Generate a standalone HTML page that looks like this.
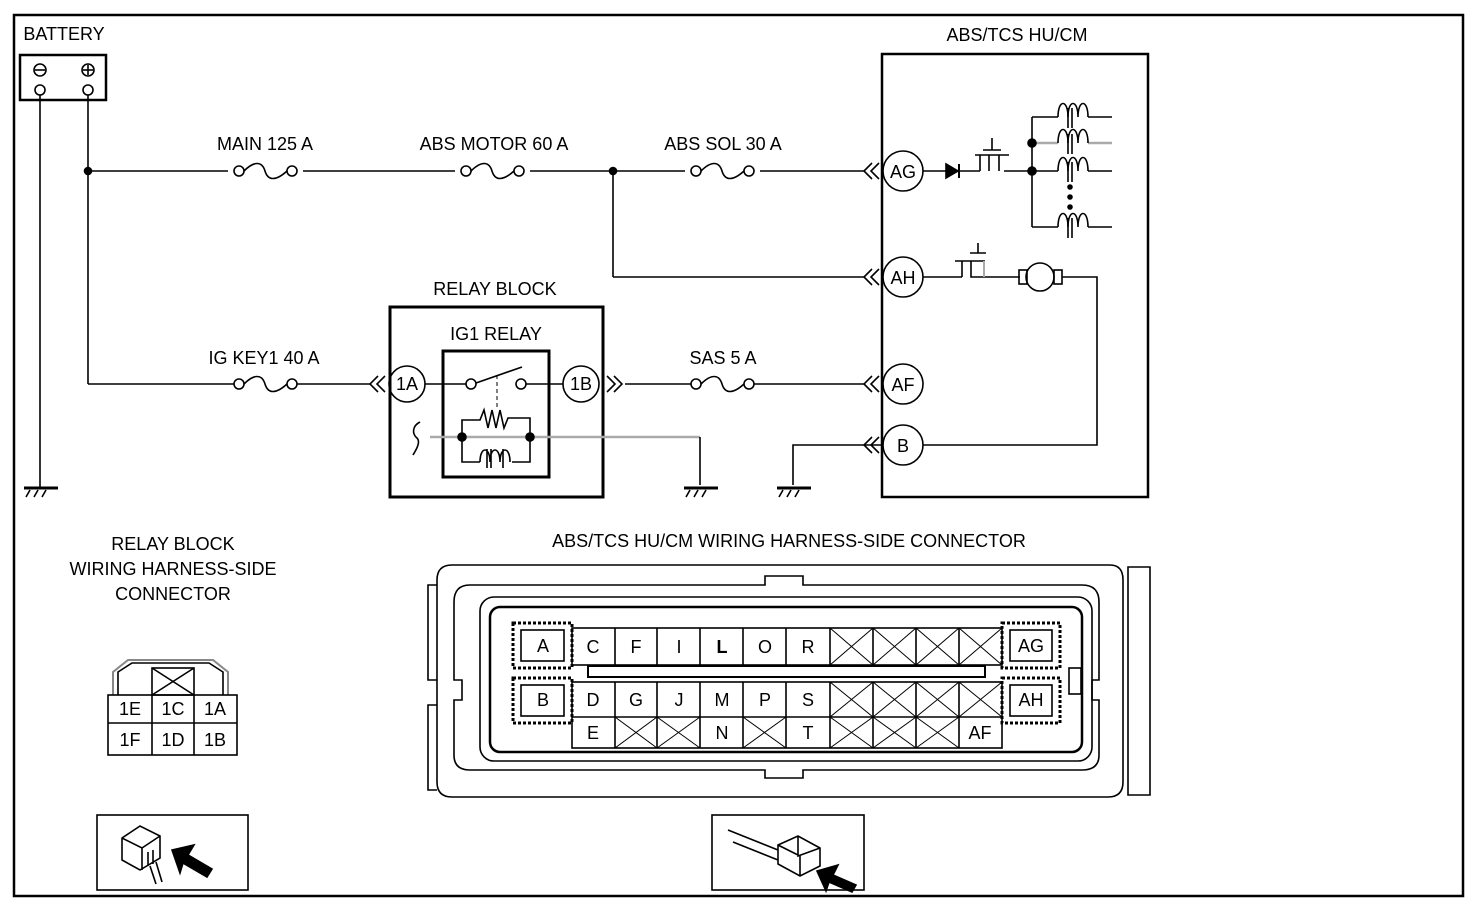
<!DOCTYPE html>
<html><head><meta charset="utf-8"><style>
html,body{margin:0;padding:0;background:#fff;}
svg{display:block;}
text{font-family:"Liberation Sans",sans-serif;font-size:18px;fill:#000;}
</style></head><body>
<svg width="1478" height="910" viewBox="0 0 1478 910" xmlns="http://www.w3.org/2000/svg">
<g fill="none" stroke="#000" stroke-width="1.6">
<rect x="14" y="15" width="1449" height="881" stroke-width="2.5"/>
<rect x="20" y="55" width="86" height="45" stroke-width="2.5"/>
<circle cx="40" cy="70" r="6"/><line x1="35" y1="70" x2="45" y2="70"/>
<circle cx="88" cy="70" r="6"/><line x1="83" y1="70" x2="93" y2="70"/><line x1="88" y1="65" x2="88" y2="75"/>
<circle cx="40" cy="90" r="5"/><circle cx="88" cy="90" r="5"/>
<line x1="40" y1="95" x2="40" y2="488"/>
<line x1="88" y1="95" x2="88" y2="384"/>
<circle cx="88" cy="171" r="3.5" fill="#000"/><circle cx="613" cy="171" r="3.5" fill="#000"/>
<line x1="88" y1="171" x2="228" y2="171"/>
<line x1="303" y1="171" x2="455" y2="171"/>
<line x1="530" y1="171" x2="685" y2="171"/>
<line x1="760" y1="171" x2="864" y2="171"/>
<line x1="613" y1="171" x2="613" y2="277"/><line x1="613" y1="277" x2="864" y2="277"/>
<circle cx="239" cy="171" r="5"/><circle cx="292" cy="171" r="5"/><path d="M244,171 C254,161 262,161 265,171 S276,181 287,171"/>
<circle cx="466" cy="171" r="5"/><circle cx="519" cy="171" r="5"/><path d="M471,171 C481,161 489,161 492,171 S503,181 514,171"/>
<circle cx="696" cy="171" r="5"/><circle cx="749" cy="171" r="5"/><path d="M701,171 C711,161 719,161 722,171 S733,181 744,171"/>
<circle cx="239" cy="384" r="5"/><circle cx="292" cy="384" r="5"/><path d="M244,384 C254,374 262,374 265,384 S276,394 287,384"/>
<circle cx="696" cy="384" r="5"/><circle cx="749" cy="384" r="5"/><path d="M701,384 C711,374 719,374 722,384 S733,394 744,384"/>
<line x1="88" y1="384" x2="234" y2="384"/><line x1="297" y1="384" x2="370" y2="384"/>
<line x1="625" y1="384" x2="691" y2="384"/><line x1="754" y1="384" x2="864" y2="384"/>
<path d="M872,163 L864,171 L872,179 M879,163 L871,171 L879,179"/>
<path d="M872,269 L864,277 L872,285 M879,269 L871,277 L879,285"/>
<path d="M872,376 L864,384 L872,392 M879,376 L871,384 L879,392"/>
<path d="M872,437 L864,445 L872,453 M879,437 L871,445 L879,453"/>
<path d="M378,376 L370,384 L378,392 M385,376 L377,384 L385,392"/>
<path d="M607,376 L615,384 L607,392 M614,376 L622,384 L614,392"/>
<rect x="882" y="54" width="266" height="443" stroke-width="2.5"/>
<circle cx="903" cy="171" r="20"/><circle cx="903" cy="277" r="20"/><circle cx="903" cy="384" r="20"/><circle cx="903" cy="445" r="20"/>
<line x1="923" y1="171" x2="946" y2="171"/><path d="M946,164 L958,171 L946,178 Z" fill="#000"/><line x1="959" y1="164" x2="959" y2="178" stroke-width="2"/>
<line x1="959" y1="171" x2="980" y2="171"/>
<path d="M980,171 V155 H1008 M989,155 V171 M999,155 V171 M975,155 H1009 M992,138 V150 M983,150 H1001"/>
<line x1="1004" y1="171" x2="1032" y2="171"/>
<line x1="1032" y1="117" x2="1032" y2="227"/>
<line x1="1032" y1="117" x2="1058" y2="117"/><line x1="1032" y1="227" x2="1058" y2="227"/>
<line x1="1032" y1="143" x2="1058" y2="143" stroke="#aaa" stroke-width="2.5"/><line x1="1088" y1="143" x2="1112" y2="143" stroke="#aaa" stroke-width="2.5"/>
<line x1="1032" y1="171" x2="1058" y2="171"/><line x1="1088" y1="171" x2="1112" y2="171"/>
<line x1="1088" y1="117" x2="1112" y2="117"/><line x1="1088" y1="227" x2="1112" y2="227"/>
<g>
<path d="M1058,117 c0,-18 10,-18 10,0 c0,-18 10,-18 10,0 c0,-18 10,-18 10,0"/>
<path d="M1058,143 c0,-18 10,-18 10,0 c0,-18 10,-18 10,0 c0,-18 10,-18 10,0"/>
<path d="M1058,171 c0,-18 10,-18 10,0 c0,-18 10,-18 10,0 c0,-18 10,-18 10,0"/>
<path d="M1058,227 c0,-18 10,-18 10,0 c0,-18 10,-18 10,0 c0,-18 10,-18 10,0"/>
<path d="M1068,108 V128 M1072,108 V128 M1068,134 V154 M1072,134 V154 M1068,162 V182 M1072,162 V182 M1068,218 V238 M1072,218 V238"/>
</g>
<circle cx="1070" cy="187" r="2" fill="#000"/><circle cx="1070" cy="197" r="2" fill="#000"/><circle cx="1070" cy="207" r="2" fill="#000"/>
<circle cx="1032" cy="143" r="4" fill="#000"/><circle cx="1032" cy="171" r="4" fill="#000"/>
<line x1="923" y1="277" x2="962" y2="277"/>
<path d="M962,277 V261 H985 M971,261 V277 H1020 M955,261 H980 M970,253 H986 M978,243 V253"/><line x1="984" y1="261" x2="984" y2="277" stroke="#aaa" stroke-width="2"/>
<rect x="1019" y="270" width="8" height="14"/><circle cx="1040" cy="277" r="14"/><rect x="1054" y="270" width="8" height="14"/>
<path d="M1062,277 H1097 V445 H923"/>
<path d="M793,485 V445 H883"/>
<line x1="24" y1="488" x2="58" y2="488" stroke-width="3"/><path d="M30,490 l-4,7 M38,490 l-4,7 M46,490 l-4,7"/>
<line x1="684" y1="488" x2="718" y2="488" stroke-width="3"/><path d="M690,490 l-4,7 M698,490 l-4,7 M706,490 l-4,7"/>
<line x1="777" y1="488" x2="811" y2="488" stroke-width="3"/><path d="M783,490 l-4,7 M791,490 l-4,7 M799,490 l-4,7"/>
<rect x="390" y="307" width="213" height="190" stroke-width="3"/>
<rect x="443" y="351" width="106" height="126" stroke-width="3"/>
<circle cx="407" cy="384" r="18"/><circle cx="581" cy="384" r="18"/>
<line x1="425" y1="384" x2="466" y2="384"/><circle cx="471" cy="384" r="5"/>
<line x1="476" y1="383" x2="522" y2="367"/><circle cx="521" cy="384" r="5"/><line x1="526" y1="384" x2="563" y2="384"/>
<line x1="497" y1="375" x2="497" y2="410" stroke-dasharray="4,3" stroke-width="1"/>
<line x1="430" y1="437" x2="700" y2="437" stroke="#aaa" stroke-width="2.5"/>
<line x1="700" y1="437" x2="700" y2="485"/>
<path d="M462,437 V420 H480 l4,-10 l4,18 l4,-18 l4,18 l4,-18 l4,18 l4,-10 H530 V437"/>
<path d="M462,437 V462 H480 M512,462 H530 V437"/>
<path d="M480,462 c0,-16 10,-16 10,0 c0,-16 10,-16 10,0 c0,-16 10,-16 10,0 M487,449 V468 M491,449 V468 M503,449 V468"/>
<circle cx="462" cy="437" r="4" fill="#000"/><circle cx="530" cy="437" r="4" fill="#000"/>
<path d="M420,422 c-8,4 -8,12 -3,16 c4,4 -1,12 -4,17"/>
<path d="M113,695 V672 L128,660 H213 L228,672 V695" stroke="#888" stroke-width="2"/>
<path d="M118,695 V672 L132,663 H209 L223,672 V695"/>
<rect x="152" y="668" width="42" height="27"/><path d="M152,668 L194,695 M194,668 L152,695"/>
<rect x="108" y="695" width="129" height="60"/>
<line x1="108" y1="723" x2="237" y2="723"/><line x1="152" y1="695" x2="152" y2="755"/><line x1="194" y1="695" x2="194" y2="755"/>
<path d="M452,565 H1110 Q1123,565 1123,580 V782 Q1123,797 1108,797 H452 Q437,797 437,782 V580 Q437,565 452,565 Z"/>
<path d="M437,585 H428 V680 H437 M437,705 H428 V790 H437"/>
<path d="M1128,567 H1150 V795 H1128 Z"/>
<path d="M470,585 H765 V576 H803 V585 H1082 Q1099,585 1099,602 V680 H1092 V700 H1099 V755 Q1099,770 1082,770 H803 V778 H765 V770 H470 Q454,770 454,755 V700 H462 V680 H454 V602 Q454,585 470,585 Z"/>
<rect x="480" y="597" width="612" height="164" rx="14"/>
<rect x="490" y="607" width="592" height="145" rx="10" stroke-width="2.5"/>
<rect x="1069" y="668" width="12" height="26"/>
<rect x="588" y="666" width="397" height="11" stroke-width="2"/>
<rect x="513" y="623" width="59" height="45" stroke-dasharray="3,2" stroke-width="3"/><rect x="521" y="630" width="43" height="31" fill="#fff"/>
<rect x="513" y="678" width="59" height="45" stroke-dasharray="3,2" stroke-width="3"/><rect x="521" y="685" width="43" height="31" fill="#fff"/>
<rect x="1002" y="623" width="58" height="45" stroke-dasharray="3,2" stroke-width="3"/><rect x="1010" y="630" width="42" height="31" fill="#fff"/>
<rect x="1002" y="678" width="58" height="45" stroke-dasharray="3,2" stroke-width="3"/><rect x="1010" y="685" width="42" height="31" fill="#fff"/>
<rect x="572" y="628" width="430" height="37"/>
<rect x="572" y="682" width="430" height="66"/>
<line x1="572" y1="717" x2="1002" y2="717"/>
<path d="M615,628 V665 M657,628 V665 M700,628 V665 M743,628 V665 M786,628 V665 M830,628 V665 M873,628 V665 M916,628 V665 M959,628 V665"/>
<path d="M615,682 V748 M657,682 V748 M700,682 V748 M743,682 V748 M786,682 V748 M830,682 V748 M873,682 V748 M916,682 V748 M959,682 V748"/>
<g stroke-width="1">
<path d="M830,628 L873,665 M873,628 L830,665 M873,628 L916,665 M916,628 L873,665 M916,628 L959,665 M959,628 L916,665 M959,628 L1002,665 M1002,628 L959,665"/>
<path d="M830,682 L873,717 M873,682 L830,717 M873,682 L916,717 M916,682 L873,717 M916,682 L959,717 M959,682 L916,717 M959,682 L1002,717 M1002,682 L959,717"/>
<path d="M615,717 L657,748 M657,717 L615,748 M657,717 L700,748 M700,717 L657,748 M743,717 L786,748 M786,717 L743,748 M830,717 L873,748 M873,717 L830,748 M873,717 L916,748 M916,717 L873,748 M916,717 L959,748 M959,717 L916,748"/>
</g>
<rect x="97" y="815" width="151" height="75"/>
<rect x="712" y="815" width="152" height="75"/>
<path d="M122,838 L140,826 L160,836 V858 L140,870 L122,860 Z M122,838 L142,848 L160,836 M142,848 V870 M148,852 V866 M153,850 V864 M150,866 L156,884 M156,862 L162,882"/>
<path d="M172,850 L194,845 L188,855 L212,869 L207,877 L183,863 L180,873 Z" fill="#000"/>
<path d="M728,830 L778,850 M733,842 L778,860 M778,845 L798,836 L820,848 V866 L800,876 L778,864 Z M798,836 V856 L820,848 M778,845 L800,856 V876"/>
<path d="M817,871 L838,865 L833,875 L856,885 L852,892 L829,882 L826,891 Z" fill="#000"/>
</g>
<g text-anchor="middle">
<text x="64" y="40" font-size="18">BATTERY</text>
<text x="1017" y="41" font-size="18">ABS/TCS HU/CM</text>
<text x="265" y="150" font-size="18">MAIN 125 A</text>
<text x="494" y="150" font-size="18">ABS MOTOR 60 A</text>
<text x="723" y="150" font-size="18">ABS SOL 30 A</text>
<text x="495" y="295" font-size="18">RELAY BLOCK</text>
<text x="496" y="340" font-size="18">IG1 RELAY</text>
<text x="264" y="364" font-size="18">IG KEY1 40 A</text>
<text x="723" y="364" font-size="18">SAS 5 A</text>
<text x="903" y="178" font-size="18">AG</text>
<text x="903" y="284" font-size="18">AH</text>
<text x="903" y="391" font-size="18">AF</text>
<text x="903" y="452" font-size="18">B</text>
<text x="407" y="390" font-size="17">1A</text>
<text x="581" y="390" font-size="17">1B</text>
<text x="173" y="550" font-size="18">RELAY BLOCK</text>
<text x="173" y="575" font-size="18">WIRING HARNESS-SIDE</text>
<text x="173" y="600" font-size="18">CONNECTOR</text>
<text x="789" y="547" font-size="18">ABS/TCS HU/CM WIRING HARNESS-SIDE CONNECTOR</text>
<text x="130" y="715" font-size="17">1E</text><text x="173" y="715" font-size="17">1C</text><text x="215" y="715" font-size="17">1A</text>
<text x="130" y="746" font-size="17">1F</text><text x="173" y="746" font-size="17">1D</text><text x="215" y="746" font-size="17">1B</text>
<g font-size="18">
<text x="543" y="652">A</text><text x="543" y="706">B</text><text x="1031" y="652">AG</text><text x="1031" y="706">AH</text>
<text x="593" y="653">C</text><text x="636" y="653">F</text><text x="679" y="653">I</text><text x="722" y="653" font-weight="bold">L</text><text x="765" y="653">O</text><text x="808" y="653">R</text>
<text x="593" y="706">D</text><text x="636" y="706">G</text><text x="679" y="706">J</text><text x="722" y="706">M</text><text x="765" y="706">P</text><text x="808" y="706">S</text>
<text x="593" y="739">E</text><text x="722" y="739">N</text><text x="808" y="739">T</text><text x="980" y="739">AF</text>
</g>
</g>
</svg>
</body></html>
